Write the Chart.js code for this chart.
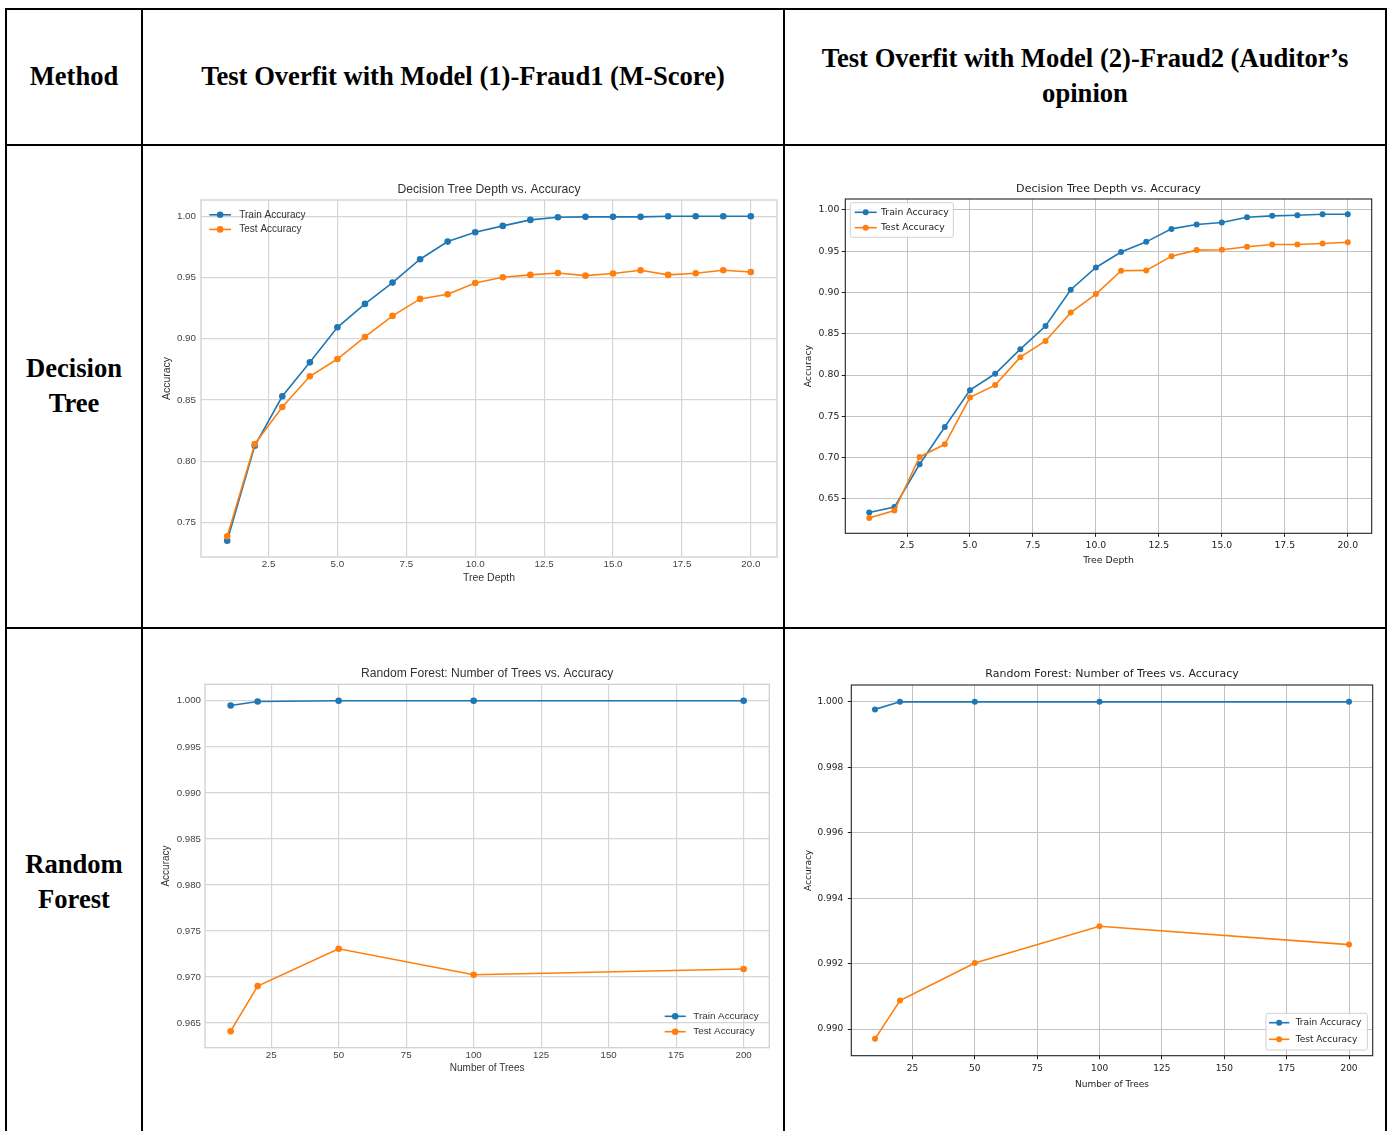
<!DOCTYPE html>
<html><head><meta charset="utf-8">
<script src="https://cdn.jsdelivr.net/npm/chart.js@4.4.1/dist/chart.umd.min.js"></script>
<style>
html,body{margin:0;padding:0;background:#fff;}
body{width:1388px;height:1131px;position:relative;overflow:hidden;}
.ln{position:absolute;background:#000;}
.cell{position:absolute;font-family:"Liberation Serif","Times New Roman",serif;font-weight:bold;font-size:26.6px;line-height:35px;text-align:center;color:#000;display:flex;align-items:center;justify-content:center;}
canvas{position:absolute;}
</style></head><body>
<div class="ln" style="left:5px;top:8px;width:1382px;height:2px"></div>
<div class="ln" style="left:5px;top:8px;width:2px;height:1123px"></div>
<div class="ln" style="left:141px;top:8px;width:2px;height:1123px"></div>
<div class="ln" style="left:783px;top:8px;width:2px;height:1123px"></div>
<div class="ln" style="left:1385px;top:8px;width:2px;height:1123px"></div>
<div class="ln" style="left:5px;top:144px;width:1382px;height:2px"></div>
<div class="ln" style="left:5px;top:627px;width:1382px;height:2px"></div>

<div class="cell" style="left:7px;top:9px;width:134px;height:134px">Method</div>
<div class="cell" style="left:143px;top:9px;width:640px;height:134px">Test Overfit with Model (1)-Fraud1 (M-Score)</div>
<div class="cell" style="left:785px;top:9px;width:600px;height:134px">Test Overfit with Model (2)-Fraud2 (Auditor’s<br>opinion</div>
<div class="cell" style="left:7px;top:145px;width:134px;height:481px">Decision<br>Tree</div>
<div class="cell" style="left:7px;top:629px;width:134px;height:506px">Random<br>Forest</div>

<canvas id="c1" width="632" height="425" style="left:150px;top:175px"></canvas>
<canvas id="c2" width="592" height="400" style="left:790px;top:175px"></canvas>
<canvas id="c3" width="630" height="420" style="left:150px;top:660px"></canvas>
<canvas id="c4" width="592" height="440" style="left:790px;top:660px"></canvas>

<script>
// ---------------- DATA ----------------
const depths = [1,2,3,4,5,6,7,8,9,10,11,12,13,14,15,16,17,18,19,20];
const dt1Train = [0.735,0.8126,0.853,0.8807,0.9093,0.9284,0.9458,0.9649,0.9793,0.9869,0.9921,0.997,0.9992,0.9995,0.9995,0.9995,1.0,1.0,1.0,1.0];
const dt1Test  = [0.7386,0.814,0.8442,0.8693,0.8834,0.9014,0.9186,0.9325,0.9363,0.9455,0.9502,0.9521,0.9537,0.9515,0.9532,0.9559,0.9521,0.9534,0.9559,0.9545];
const dt2Train = [0.6335,0.640,0.6919,0.737,0.7817,0.8015,0.8313,0.8594,0.9033,0.9303,0.9489,0.9613,0.977,0.9823,0.9847,0.9911,0.9928,0.9936,0.9948,0.9948];
const dt2Test  = [0.6267,0.6359,0.7008,0.7161,0.7729,0.7878,0.8216,0.8413,0.8756,0.8981,0.9263,0.9267,0.944,0.9513,0.9517,0.9553,0.9581,0.9581,0.9593,0.9609];
const nTrees = [10,20,50,100,200];
const rf1Train = [0.99949,0.99993,1.0,1.0,1.0];
const rf1Test  = [0.9641,0.969,0.97306,0.97023,0.97085];
const rf2Train = [0.99977,1.0,1.0,1.0,1.0];
const rf2Test  = [0.9897,0.99087,0.99202,0.99314,0.99258];

const depthTicks = [2.5,5.0,7.5,10.0,12.5,15.0,17.5,20.0];
const treeTicks = [25,50,75,100,125,150,175,200];
const dt1YTicks = [0.75,0.80,0.85,0.90,0.95,1.00];
const dt2YTicks = [0.65,0.70,0.75,0.80,0.85,0.90,0.95,1.00];
const rf1YTicks = [0.965,0.970,0.975,0.980,0.985,0.990,0.995,1.000];
const rf2YTicks = [0.990,0.992,0.994,0.996,0.998,1.000];

const seriesNames = ['Train Accuracy','Test Accuracy'];
const titles = ['Decision Tree Depth vs. Accuracy','Random Forest: Number of Trees vs. Accuracy'];
const xTitles = ['Tree Depth','Number of Trees'];
const yTitle = 'Accuracy';

// ---------------- HELPERS ----------------
const BLUE = '#1f77b4', ORANGE = '#ff7f0e';
const ARIAL = '"Liberation Sans", Arial, sans-serif';
const DEJAVU = '"DejaVu Sans", sans-serif';

function margins(arrs){
  const all = [].concat(...arrs);
  const mn = Math.min(...all), mx = Math.max(...all), r = mx - mn;
  return [mn - 0.05*r, mx + 0.05*r];
}
function pts(xs, ys){ return xs.map((x,i)=>({x:x, y:ys[i]})); }

const framePlugin = {
  id:'frame',
  afterDatasetsDraw(chart, args, o){
    const a = chart.chartArea, ctx = chart.ctx;
    ctx.save(); ctx.strokeStyle = o.color; ctx.lineWidth = o.width;
    ctx.strokeRect(a.left, a.top, a.right-a.left, a.bottom-a.top);
    ctx.restore();
  }
};
const legendPlugin = {
  id:'mplLegend',
  afterDraw(chart, args, o){
    const a = chart.chartArea, ctx = chart.ctx;
    const bx = o.anchor === 'tl' ? a.left : a.right;
    const by = o.anchor === 'tl' ? a.top : a.bottom;
    ctx.save();
    if (o.frame){
      const f = o.frame;
      const x0 = bx+f.x0, y0 = by+f.y0, w = f.x1-f.x0, h = f.y1-f.y0, r = 2;
      ctx.beginPath();
      ctx.moveTo(x0+r,y0); ctx.lineTo(x0+w-r,y0); ctx.quadraticCurveTo(x0+w,y0,x0+w,y0+r);
      ctx.lineTo(x0+w,y0+h-r); ctx.quadraticCurveTo(x0+w,y0+h,x0+w-r,y0+h);
      ctx.lineTo(x0+r,y0+h); ctx.quadraticCurveTo(x0,y0+h,x0,y0+h-r);
      ctx.lineTo(x0,y0+r); ctx.quadraticCurveTo(x0,y0,x0+r,y0); ctx.closePath();
      ctx.fillStyle = 'rgba(255,255,255,0.85)'; ctx.fill();
      ctx.strokeStyle = '#d0d0d0'; ctx.lineWidth = 1; ctx.stroke();
    }
    const ds = chart.data.datasets;
    [0,1].forEach(i=>{
      const d = ds.find(q=>q.label===seriesNames[i]);
      const y = by + o.rows[i];
      ctx.strokeStyle = d.borderColor; ctx.lineWidth = d.borderWidth;
      ctx.beginPath(); ctx.moveTo(bx+o.dx0, y); ctx.lineTo(bx+o.dx1, y); ctx.stroke();
      ctx.fillStyle = d.borderColor;
      ctx.beginPath(); ctx.arc(bx+(o.dx0+o.dx1)/2, y, d.pointRadius, 0, Math.PI*2); ctx.fill();
      ctx.fillStyle = o.color; ctx.font = o.font; ctx.textBaseline = 'middle'; ctx.textAlign = 'left';
      ctx.fillText(seriesNames[i], bx+o.tx, y);
    });
    ctx.restore();
  }
};

function makeChart(id, s){
  const [ymin, ymax] = margins([s.train, s.test]);
  const [xmin0, xmax0] = margins([s.xs]);
  const ds = (label, data, color, order) => ({
    label, data: pts(s.xs, data), borderColor: color, backgroundColor: color,
    pointBackgroundColor: color, pointBorderWidth: 0, pointRadius: s.pr, pointHoverRadius: s.pr,
    borderWidth: 1.6, tension: 0, fill: false, order
  });
  const grid = s.classic
    ? {color:'#c2c2c2', lineWidth:1, drawTicks:true, tickLength:3.5, tickColor:'#222', tickWidth:1}
    : {color:'#d6d6d6', lineWidth:1.2, drawTicks:false};
  return new Chart(document.getElementById(id), {
    type:'line',
    data:{datasets:[ds(seriesNames[0], s.train, BLUE, 1), ds(seriesNames[1], s.test, ORANGE, 0)]},
    plugins:[framePlugin, legendPlugin],
    options:{
      responsive:false, animation:false, devicePixelRatio:1,
      layout:{padding:s.pad},
      plugins:{
        legend:{display:false}, tooltip:{enabled:false},
        title:{display:true, fullSize:false, text:s.title, color:s.titleColor,
               font:{family:s.fam, size:s.titleSize, weight:'normal'}, padding:s.titlePad},
        frame:{color:s.classic?'#222':'#d0d0d0', width:s.classic?1.1:1.3},
        mplLegend:s.legend
      },
      scales:{
        x:{type:'linear', min:xmin0, max:xmax0, grid:grid, border:{display:false},
           afterBuildTicks:sc=>{sc.ticks = s.xTicks.map(v=>({value:v}));},
           afterFit:sc=>{sc.height = s.xh;},
           ticks:{font:{family:s.fam, size:s.tickSize}, color:s.tickColor, padding:s.xTickPad, maxRotation:0, autoSkip:false,
                  callback:v=>s.xDec!=null ? Number(v).toFixed(s.xDec) : String(v)},
           title:{display:true, text:s.xTitle, color:s.titleColor, font:{family:s.fam, size:s.labSize}, padding:{top:0,bottom:0}}},
        y:{type:'linear', min:ymin, max:ymax, grid:grid, border:{display:false},
           afterBuildTicks:sc=>{sc.ticks = s.yTicks.map(v=>({value:v}));},
           afterFit:sc=>{sc.width = s.yw;},
           ticks:{font:{family:s.fam, size:s.tickSize}, color:s.tickColor, padding:s.yTickPad, autoSkip:false,
                  callback:v=>Number(v).toFixed(s.yDec)},
           title:{display:true, text:yTitle, color:s.titleColor, font:{family:s.fam, size:s.labSize}, padding:{top:s.yTitlePad,bottom:0}}}
      }
    }
  });
}

makeChart('c1', {
  xs:depths, train:dt1Train, test:dt1Test, xTicks:depthTicks, yTicks:dt1YTicks, xDec:1, yDec:2,
  classic:false, fam:ARIAL, title:titles[0], xTitle:xTitles[0],
  titleSize:12.2, tickSize:9.8, labSize:10.5, titleColor:'#333', tickColor:'#444', pr:3.3,
  pad:{left:0,right:5,top:0,bottom:16}, titlePad:{top:7,bottom:3.36},
  yw:51, xh:27, xTickPad:1, yTickPad:5, yTitlePad:10.7,
  legend:{anchor:'tl', dx0:8.3, dx1:30, tx:38.3, rows:[14.8,29.4], frame:null, font:'10px '+ARIAL, color:'#333'}
});
makeChart('c2', {
  xs:depths, train:dt2Train, test:dt2Test, xTicks:depthTicks, yTicks:dt2YTicks, xDec:1, yDec:2,
  classic:true, fam:DEJAVU, title:titles[0], xTitle:xTitles[0],
  titleSize:11.1, tickSize:9.3, labSize:9.3, titleColor:'#222', tickColor:'#222', pr:3,
  pad:{left:0,right:10.3,top:0,bottom:8.7}, titlePad:{top:7.34,bottom:3.34},
  yw:55.3, xh:33, xTickPad:3.3, yTickPad:2.5, yTitlePad:12.7,
  legend:{anchor:'tl', dx0:9.4, dx1:31.4, tx:35.7, rows:[13.3,28.7], frame:{x0:5,x1:108,y0:3.7,y1:38.3}, font:'9.3px '+DEJAVU, color:'#222'}
});
makeChart('c3', {
  xs:nTrees, train:rf1Train, test:rf1Test, xTicks:treeTicks, yTicks:rf1YTicks, xDec:null, yDec:3,
  classic:false, fam:ARIAL, title:titles[1], xTitle:xTitles[1],
  titleSize:12.1, tickSize:9.7, labSize:10, titleColor:'#333', tickColor:'#444', pr:3.3,
  pad:{left:0,right:10.7,top:0,bottom:5.3}, titlePad:{top:6.74,bottom:3.04},
  yw:55, xh:27, xTickPad:1.8, yTickPad:4, yTitlePad:10,
  legend:{anchor:'br', dx0:-104.6, dx1:-83.6, tx:-76, rows:[-31.4,-16], frame:null, font:'9.85px '+ARIAL, color:'#333'}
});
makeChart('c4', {
  xs:nTrees, train:rf2Train, test:rf2Test, xTicks:treeTicks, yTicks:rf2YTicks, xDec:null, yDec:3,
  classic:true, fam:DEJAVU, title:titles[1], xTitle:xTitles[1],
  titleSize:11, tickSize:9, labSize:9, titleColor:'#222', tickColor:'#222', pr:3,
  pad:{left:0,right:9.3,top:0,bottom:9.7}, titlePad:{top:7.4,bottom:4.4},
  yw:61.3, xh:34.6, xTickPad:3.7, yTickPad:4.5, yTitlePad:12.9,
  legend:{anchor:'br', dx0:-103.7, dx1:-83.4, tx:-77, rows:[-33,-16.4], frame:{x0:-106.7,x1:-5.4,y0:-42.4,y1:-5.7}, font:'9px '+DEJAVU, color:'#222'}
});
</script>
</body></html>
